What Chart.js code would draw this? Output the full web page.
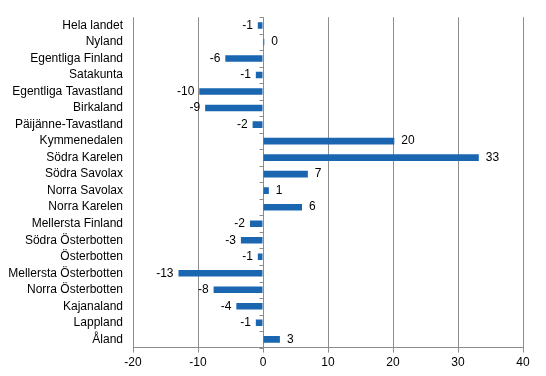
<!DOCTYPE html>
<html>
<head>
<meta charset="utf-8">
<script src="https://cdn.jsdelivr.net/npm/chart.js@4"></script>
<style>
  html, body { margin: 0; padding: 0; background: #fff; }
  #wrap { width: 546px; height: 376px; }
</style>
</head>
<body>
<div id="wrap"><canvas id="chart" width="546" height="376"></canvas></div>
<script>
const regions = ['Hela landet', 'Nyland', 'Egentliga Finland', 'Satakunta', 'Egentliga Tavastland',
    'Birkaland', 'Päijänne-Tavastland', 'Kymmenedalen', 'Södra Karelen', 'Södra Savolax',
    'Norra Savolax', 'Norra Karelen', 'Mellersta Finland', 'Södra Österbotten', 'Österbotten',
    'Mellersta Österbotten', 'Norra Österbotten', 'Kajanaland', 'Lappland', 'Åland'];
const change = [-0.8, 0.2, -5.8, -1.1, -9.8, -8.9, -1.6, 20.2, 33.2, 6.9,
    0.9, 6.0, -2.0, -3.4, -0.8, -13.0, -7.6, -4.1, -1.1, 2.6];
const xTicks = [-20, -10, 0, 10, 20, 30, 40];

const barColor = '#1a66b0';
const gridColor = '#8c8c8c';
const font = { family: 'Liberation Sans, Arial, sans-serif', size: 12 };

// value labels next to each bar end + small ticks on the zero line
const barLabels = {
    id: 'barLabels',
    afterDatasetsDraw(chart) {
        const ctx = chart.ctx;
        const meta = chart.getDatasetMeta(0);
        const xs = chart.scales.x, ys = chart.scales.y;
        ctx.save();
        ctx.font = font.size + 'px ' + font.family;
        ctx.fillStyle = '#000';
        ctx.textBaseline = 'middle';
        meta.data.forEach((bar, i) => {
            const v = change[i];
            const txt = String(Math.round(v));
            if (v < 0) {
                ctx.textAlign = 'right';
                ctx.fillText(txt, bar.x - 5, bar.y);
            } else {
                ctx.textAlign = 'left';
                ctx.fillText(txt, bar.x + 7, bar.y);
            }
        });
        // zero axis with category tick marks
        const x0 = Math.round(xs.getPixelForValue(0)) + 0.5;
        ctx.strokeStyle = gridColor;
        ctx.lineWidth = 1;
        ctx.beginPath();
        for (let i = 0; i <= regions.length; i++) {
            const y = Math.round(ys.getPixelForValue(i - 0.5)) + 0.5;
            ctx.moveTo(x0 - 4, y);
            ctx.lineTo(x0, y);
        }
        ctx.stroke();
        ctx.restore();
    }
};

new Chart(document.getElementById('chart').getContext('2d'), {
    type: 'bar',
    data: {
        labels: regions,
        datasets: [{
            data: change,
            backgroundColor: barColor,
            borderWidth: 0,
            categoryPercentage: 1,
            barPercentage: 0.4
        }]
    },
    options: {
        indexAxis: 'y',
        responsive: false,
        animation: false,
        layout: { padding: { top: 12, right: 23, left: 0, bottom: 3 } },
        plugins: {
            legend: { display: false },
            tooltip: { enabled: false }
        },
        scales: {
            x: {
                min: -20,
                max: 40,
                afterBuildTicks(scale) { scale.ticks = xTicks.map(v => ({ value: v })); },
                grid: { color: gridColor, lineWidth: 1, tickLength: 5 },
                border: { display: true, color: gridColor },
                ticks: { color: '#000', font: font, padding: 3, maxRotation: 0 }
            },
            y: {
                grid: { display: false, drawTicks: false },
                border: { display: false },
                afterFit(scale) { scale.width = 133; },
                ticks: { color: '#000', font: font, padding: 10, autoSkip: false }
            }
        }
    },
    plugins: [barLabels]
});
</script>
</body>
</html>
